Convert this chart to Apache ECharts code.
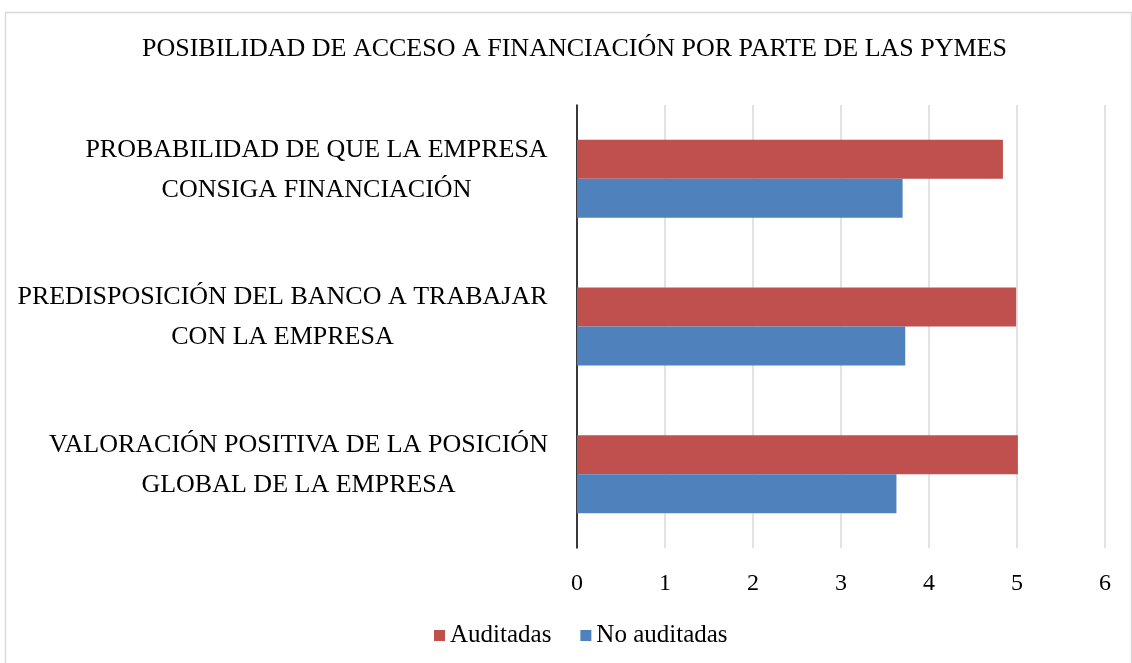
<!DOCTYPE html>
<html>
<head>
<meta charset="utf-8">
<script src="https://cdn.jsdelivr.net/npm/echarts@6/dist/echarts.min.js"></script>
<style>html,body{margin:0;padding:0;background:#fff}#c{width:1132px;height:663px}</style>
</head>
<body>
<div id="c"></div>
<script>
// Categories listed bottom to top (ECharts category axis order)
const categories = [
  'VALORACIÓN POSITIVA DE LA POSICIÓN\nGLOBAL DE LA EMPRESA',
  'PREDISPOSICIÓN DEL BANCO A TRABAJAR\nCON LA EMPRESA',
  'PROBABILIDAD DE QUE LA EMPRESA\nCONSIGA FINANCIACIÓN'
];
const auditadas = [5.01, 4.99, 4.84];
const noAuditadas = [3.63, 3.73, 3.70];
const titleText = 'POSIBILIDAD DE ACCESO A FINANCIACIÓN POR PARTE DE LAS PYMES';

const FONT = '"Liberation Serif", "DejaVu Serif", serif';
const LABEL_SIZE = 26;

// measure block widths so each label block is right-aligned with centered lines
const ctx = document.createElement('canvas').getContext('2d');
ctx.font = LABEL_SIZE + 'px "Liberation Serif"';
const rich = {b: {fontFamily: FONT, fontSize: 10, lineHeight: 18}};
categories.forEach(function (c, i) {
  const w = Math.ceil(Math.max.apply(null, c.split('\n').map(function (s) { return ctx.measureText(s).width; })));
  rich['r' + i] = {fontFamily: FONT, fontSize: LABEL_SIZE, color: '#000', lineHeight: 40, width: w, align: 'center'};
});

const chart = echarts.init(document.getElementById('c'), null, {renderer: 'canvas'});
chart.setOption({
  backgroundColor: '#fff',
  animation: false,
  title: {
    text: titleText,
    left: 137,
    top: 31,
    textStyle: {fontFamily: FONT, fontSize: 26, fontWeight: 'normal', color: '#000'}
  },
  graphic: [{
    type: 'rect', left: 3, top: 10,
    shape: {width: 1126, height: 660},
    style: {fill: 'none', stroke: '#d9d9d9', lineWidth: 1.5},
    silent: true
  }],
  legend: {
    data: ['Auditadas', 'No auditadas'],
    bottom: 10,
    left: 429,
    itemWidth: 11, itemHeight: 11, itemGap: 29,
    icon: 'rect',
    textStyle: {fontFamily: FONT, fontSize: 25, color: '#000'}
  },
  grid: {left: 577, right: 27, top: 105, bottom: 115, containLabel: false},
  xAxis: {
    type: 'value', min: 0, max: 6, interval: 1,
    axisLine: {show: false}, axisTick: {show: false},
    axisLabel: {fontFamily: FONT, fontSize: 24, color: '#000', margin: 24},
    splitLine: {show: true, lineStyle: {color: '#d9d9d9', width: 1.5}}
  },
  yAxis: {
    type: 'category', data: categories,
    axisLine: {show: true, lineStyle: {color: '#000', width: 1.5}},
    axisTick: {show: false},
    axisLabel: {
      align: 'right', margin: 29,
      formatter: function (v, idx) {
        return v.split('\n').map(function (s) { return '{r' + idx + '|' + s + '}'; }).join('\n') + '\n{b| }';
      },
      rich: rich
    }
  },
  series: [
    {name: 'Auditadas', type: 'bar', data: auditadas, barWidth: 39, barGap: '0%',
      itemStyle: {color: '#C0504D'}},
    {name: 'No auditadas', type: 'bar', data: noAuditadas, barWidth: 39, barGap: '0%',
      itemStyle: {color: '#4F81BD'}}
  ]
});
</script>
</body>
</html>
